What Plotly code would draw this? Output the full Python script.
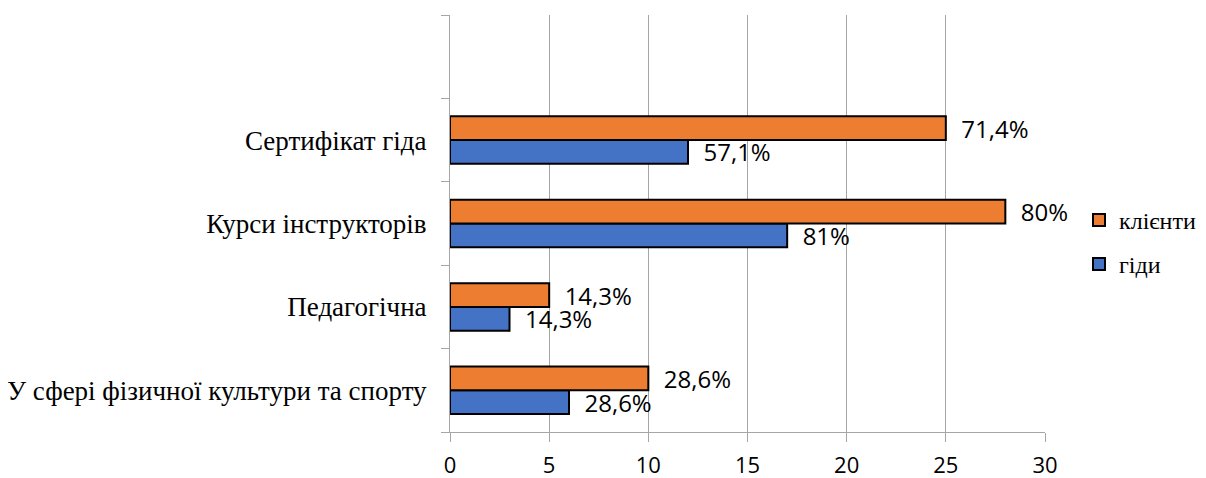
import plotly.graph_objects as go

categories = ["У сфері фізичної культури та спорту", "Педагогічна", "Курси інструкторів", "Сертифікат гіда"]
empty_category = " "
guides = [6, 3, 17, 12]
clients = [10, 5, 28, 25]
guides_labels = ["28,6%", "14,3%", "81%", "57,1%"]
clients_labels = ["28,6%", "14,3%", "80%", "71,4%"]
x_ticks = [0, 5, 10, 15, 20, 25, 30]

BLUE = "#4472C4"
ORANGE = "#ED7D31"
SERIF = "Liberation Serif, Times New Roman, serif"
SANS = "Open Sans, Liberation Sans, sans-serif"
pad = "\u00a0" * 2

fig = go.Figure()
fig.add_trace(go.Bar(
    y=categories, x=guides, orientation="h", name="гіди", legendgroup="g", legendrank=2,
    marker=dict(color=BLUE, line=dict(color="black", width=2)),
    text=[pad + t for t in guides_labels], textposition="outside",
    textfont=dict(family=SANS, size=24, color="black"),
    cliponaxis=False, constraintext="none",
))
fig.add_trace(go.Bar(
    y=categories, x=clients, orientation="h", name="клієнти", legendgroup="c", legendrank=1,
    marker=dict(color=ORANGE, line=dict(color="black", width=2)),
    text=[pad + t for t in clients_labels], textposition="outside",
    textfont=dict(family=SANS, size=24, color="black"),
    cliponaxis=False, constraintext="none",
))
fig.add_trace(go.Scatter(
    y=[empty_category], x=[0], mode="markers", marker=dict(opacity=0),
    showlegend=False, hoverinfo="skip",
))

# the page body has an 8px margin, so the figure is made 8px smaller and shifted
fig.update_layout(
    width=1198, height=470,
    margin=dict(l=442, r=161, t=7, b=46, autoexpand=False),
    plot_bgcolor="white", paper_bgcolor="white",
    barmode="group", bargap=0.43, bargroupgap=0,
    showlegend=True,
    legend=dict(
        xref="container", yref="container",
        x=0.894, y=0.5015, xanchor="left", yanchor="middle",
        traceorder="grouped", font=dict(family=SERIF, size=24, color="black"),
        itemsizing="constant", tracegroupgap=10, itemwidth=30,
        bgcolor="rgba(0,0,0,0)",
    ),
    xaxis=dict(
        range=[0, 30], tickvals=x_ticks, ticktext=[str(v) for v in x_ticks],
        showgrid=True, gridcolor="#a6a6a6", gridwidth=1,
        showline=True, linecolor="#a6a6a6", linewidth=1,
        ticks="outside", ticklen=9, tickcolor="#a6a6a6",
        tickfont=dict(family=SANS, size=22, color="black"),
        zeroline=False, ticklabelstandoff=5, automargin=False,
    ),
    yaxis=dict(
        type="category", categoryorder="array",
        categoryarray=categories + [empty_category],
        range=[-0.5, 4.5],
        showline=True, linecolor="#a6a6a6", linewidth=1,
        ticks="outside", ticklen=8, tickcolor="#a6a6a6", tickson="boundaries",
        tickfont=dict(family=SERIF, size=27, color="black"),
        showgrid=False, ticklabelstandoff=17, automargin=False,
    ),
)

fig.write_html("out.html")
